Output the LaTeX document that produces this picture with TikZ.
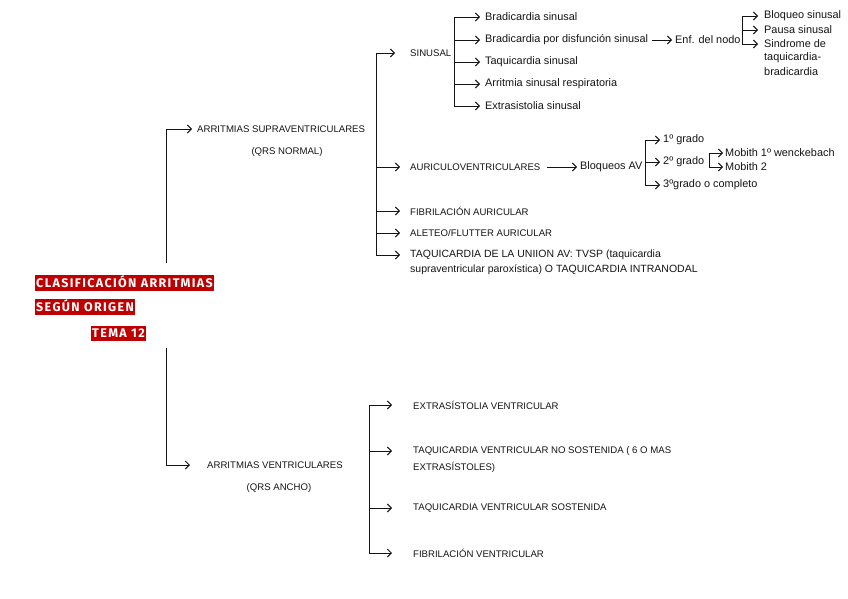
\documentclass[tikz,border=0pt]{standalone}
\usepackage{fontspec}
\setmainfont{Liberation Sans}
\newfontfamily\ttlfont[LetterSpace=11]{Fira Sans}
\usetikzlibrary{arrows.meta,calc}
\definecolor{ttlred}{RGB}{192,0,0}
\definecolor{ink}{RGB}{20,20,20}
\tikzset{
  capt/.style={anchor=west, inner sep=0pt, text=ink, font=\fontsize{9.6}{11}\selectfont},
  capc/.style={anchor=center, inner sep=0pt, text=ink, font=\fontsize{9.6}{11}\selectfont},
  mixcap/.style={anchor=west, inner sep=0pt, text=ink, font=\fontsize{10.5}{12}\selectfont},
  mix/.style={anchor=west, inner sep=0pt, text=ink, font=\fontsize{10.9}{12}\selectfont},
  ttl/.style={anchor=west, fill=ttlred, text=white, inner xsep=1pt, inner ysep=0pt,
     text height=12.2pt, text depth=3.3pt,
     font=\ttlfont\bfseries\fontsize{12.5}{14}\selectfont},
  ln/.style={draw=ink, line width=0.9pt},
  arr/.style={ln, -{Straight Barb[length=4pt,width=8pt,line width=0.9pt]}},
}
\begin{document}
\begin{tikzpicture}[x=1pt,y=-1pt]
\useasboundingbox (0,0) rectangle (848,599);

% title
\node[ttl] (t1) at (35,283) {CLASIFICACIÓN ARRITMIAS};
\node[ttl] (t2) at (35,307) {SEGÚN ORIGEN};
\node[ttl] (t3) at (91,333.5) {TEMA 12};

% level 1
\node[capt] (sv) at (197,129) {ARRITMIAS SUPRAVENTRICULARES};
\node[capc] (svq) at (287,152) {(QRS NORMAL)};
\node[capt] (ve) at (207,465) {ARRITMIAS VENTRICULARES};
\node[capc] (veq) at (279,488) {(QRS ANCHO)};

\coordinate (m1) at (166,263);
\coordinate (m2) at (166,348);
\draw[arr, shorten >=5pt] (m1) |- (sv.west);
\draw[arr, shorten >=17pt] (m2) |- (ve.west);

% supraventricular branch
\node[capt] (sin) at (410,53) {SINUSAL};
\node[capt] (av) at (410,167) {AURICULOVENTRICULARES};
\node[capt] (fa) at (410,211) {FIBRILACIÓN AURICULAR};
\node[capt] (al) at (410,233) {ALETEO/FLUTTER AURICULAR};
\node[mixcap] (tu) at (410,255) {TAQUICARDIA DE LA UNIION AV: TVSP (taquicardia};
\node[mixcap] (tu2) at (410,270) {supraventricular paroxística) O TAQUICARDIA INTRANODAL};

\coordinate (sp) at (376,0);
\draw[ln] (sp |- sin.west) -- (sp |- tu.west);
\draw[arr, shorten >=15pt] (sp |- sin.west) -- (sin.west);
\foreach \n in {av,fa,al,tu} \draw[arr, shorten >=10pt] (sp |- \n.west) -- (\n.west);

% sinusal
\node[mix] (b1) at (485,17) {Bradicardia sinusal};
\node[mix] (b2) at (485,40) {Bradicardia por disfunción sinusal};
\node[mix] (b3) at (485,62) {Taquicardia sinusal};
\node[mix] (b4) at (485,84) {Arritmia sinusal respiratoria};
\node[mix] (b5) at (485,106) {Extrasistolia sinusal};
\coordinate (sb) at (454,0);
\draw[ln] (sb |- b1.west) -- (sb |- b5.west);
\foreach \n in {b1,b2,b3,b4,b5} \draw[arr, shorten >=5pt] (sb |- \n.west) -- (\n.west);

\node[mix] (enf) at (675,40) {Enf. del nodo};
\draw[arr, shorten <=4pt, shorten >=3pt] (b2.east) -- (enf.west);

\node[mix] (n1) at (764,16) {Bloqueo sinusal};
\node[mix] (n2) at (764,30) {Pausa sinusal};
\node[mix] (n3) at (764,44) {Sindrome de};
\node[mix] (n3b) at (764,58) {taquicardia-};
\node[mix] (n3c) at (764,72) {bradicardia};
\coordinate (nb) at (742,0);
\draw[ln] (nb |- n1.west) -- (nb |- n3.west);
\foreach \n in {n1,n2,n3} \draw[arr, shorten >=6pt] (nb |- \n.west) -- (\n.west);

% AV blocks
\node[mix] (bav) at (580,167) {Bloqueos AV};
\draw[arr, shorten <=6pt, shorten >=3pt] (av.east) -- (bav.west);
\node[mix] (g1) at (663,140) {1º grado};
\node[mix] (g2) at (663,162) {2º grado};
\node[mix] (g3) at (663,185) {3ºgrado o completo};
\coordinate (gb) at (645,0);
\draw[ln] (gb |- g1.west) -- (gb |- g3.west);
\foreach \n in {g1,g2,g3} \draw[arr, shorten >=3pt] (gb |- \n.west) -- (\n.west);

\node[mix] (mo1) at (725,153) {Mobith 1º wenckebach};
\node[mix] (mo2) at (725,167) {Mobith 2};
\coordinate (mb) at (709,0);
\draw[ln] (mb |- mo1.west) -- (mb |- mo2.west);
\foreach \n in {mo1,mo2} \draw[arr, shorten >=2pt] (mb |- \n.west) -- (\n.west);

% ventricular branch
\node[capt] (v1) at (413,405) {EXTRASÍSTOLIA VENTRICULAR};
\node[capt] (v2) at (413,451) {TAQUICARDIA VENTRICULAR NO SOSTENIDA ( 6 O MAS};
\node[capt] (v2b) at (413,467) {EXTRASÍSTOLES)};
\node[capt] (v3) at (413,508) {TAQUICARDIA VENTRICULAR SOSTENIDA};
\node[capt] (v4) at (413,553) {FIBRILACIÓN VENTRICULAR};
\coordinate (vb) at (369,0);
\draw[ln] (vb |- v1.west) -- (vb |- v4.west);
\foreach \n in {v1,v2,v3,v4} \draw[arr, shorten >=21pt] (vb |- \n.west) -- (\n.west);
\end{tikzpicture}
\end{document}
